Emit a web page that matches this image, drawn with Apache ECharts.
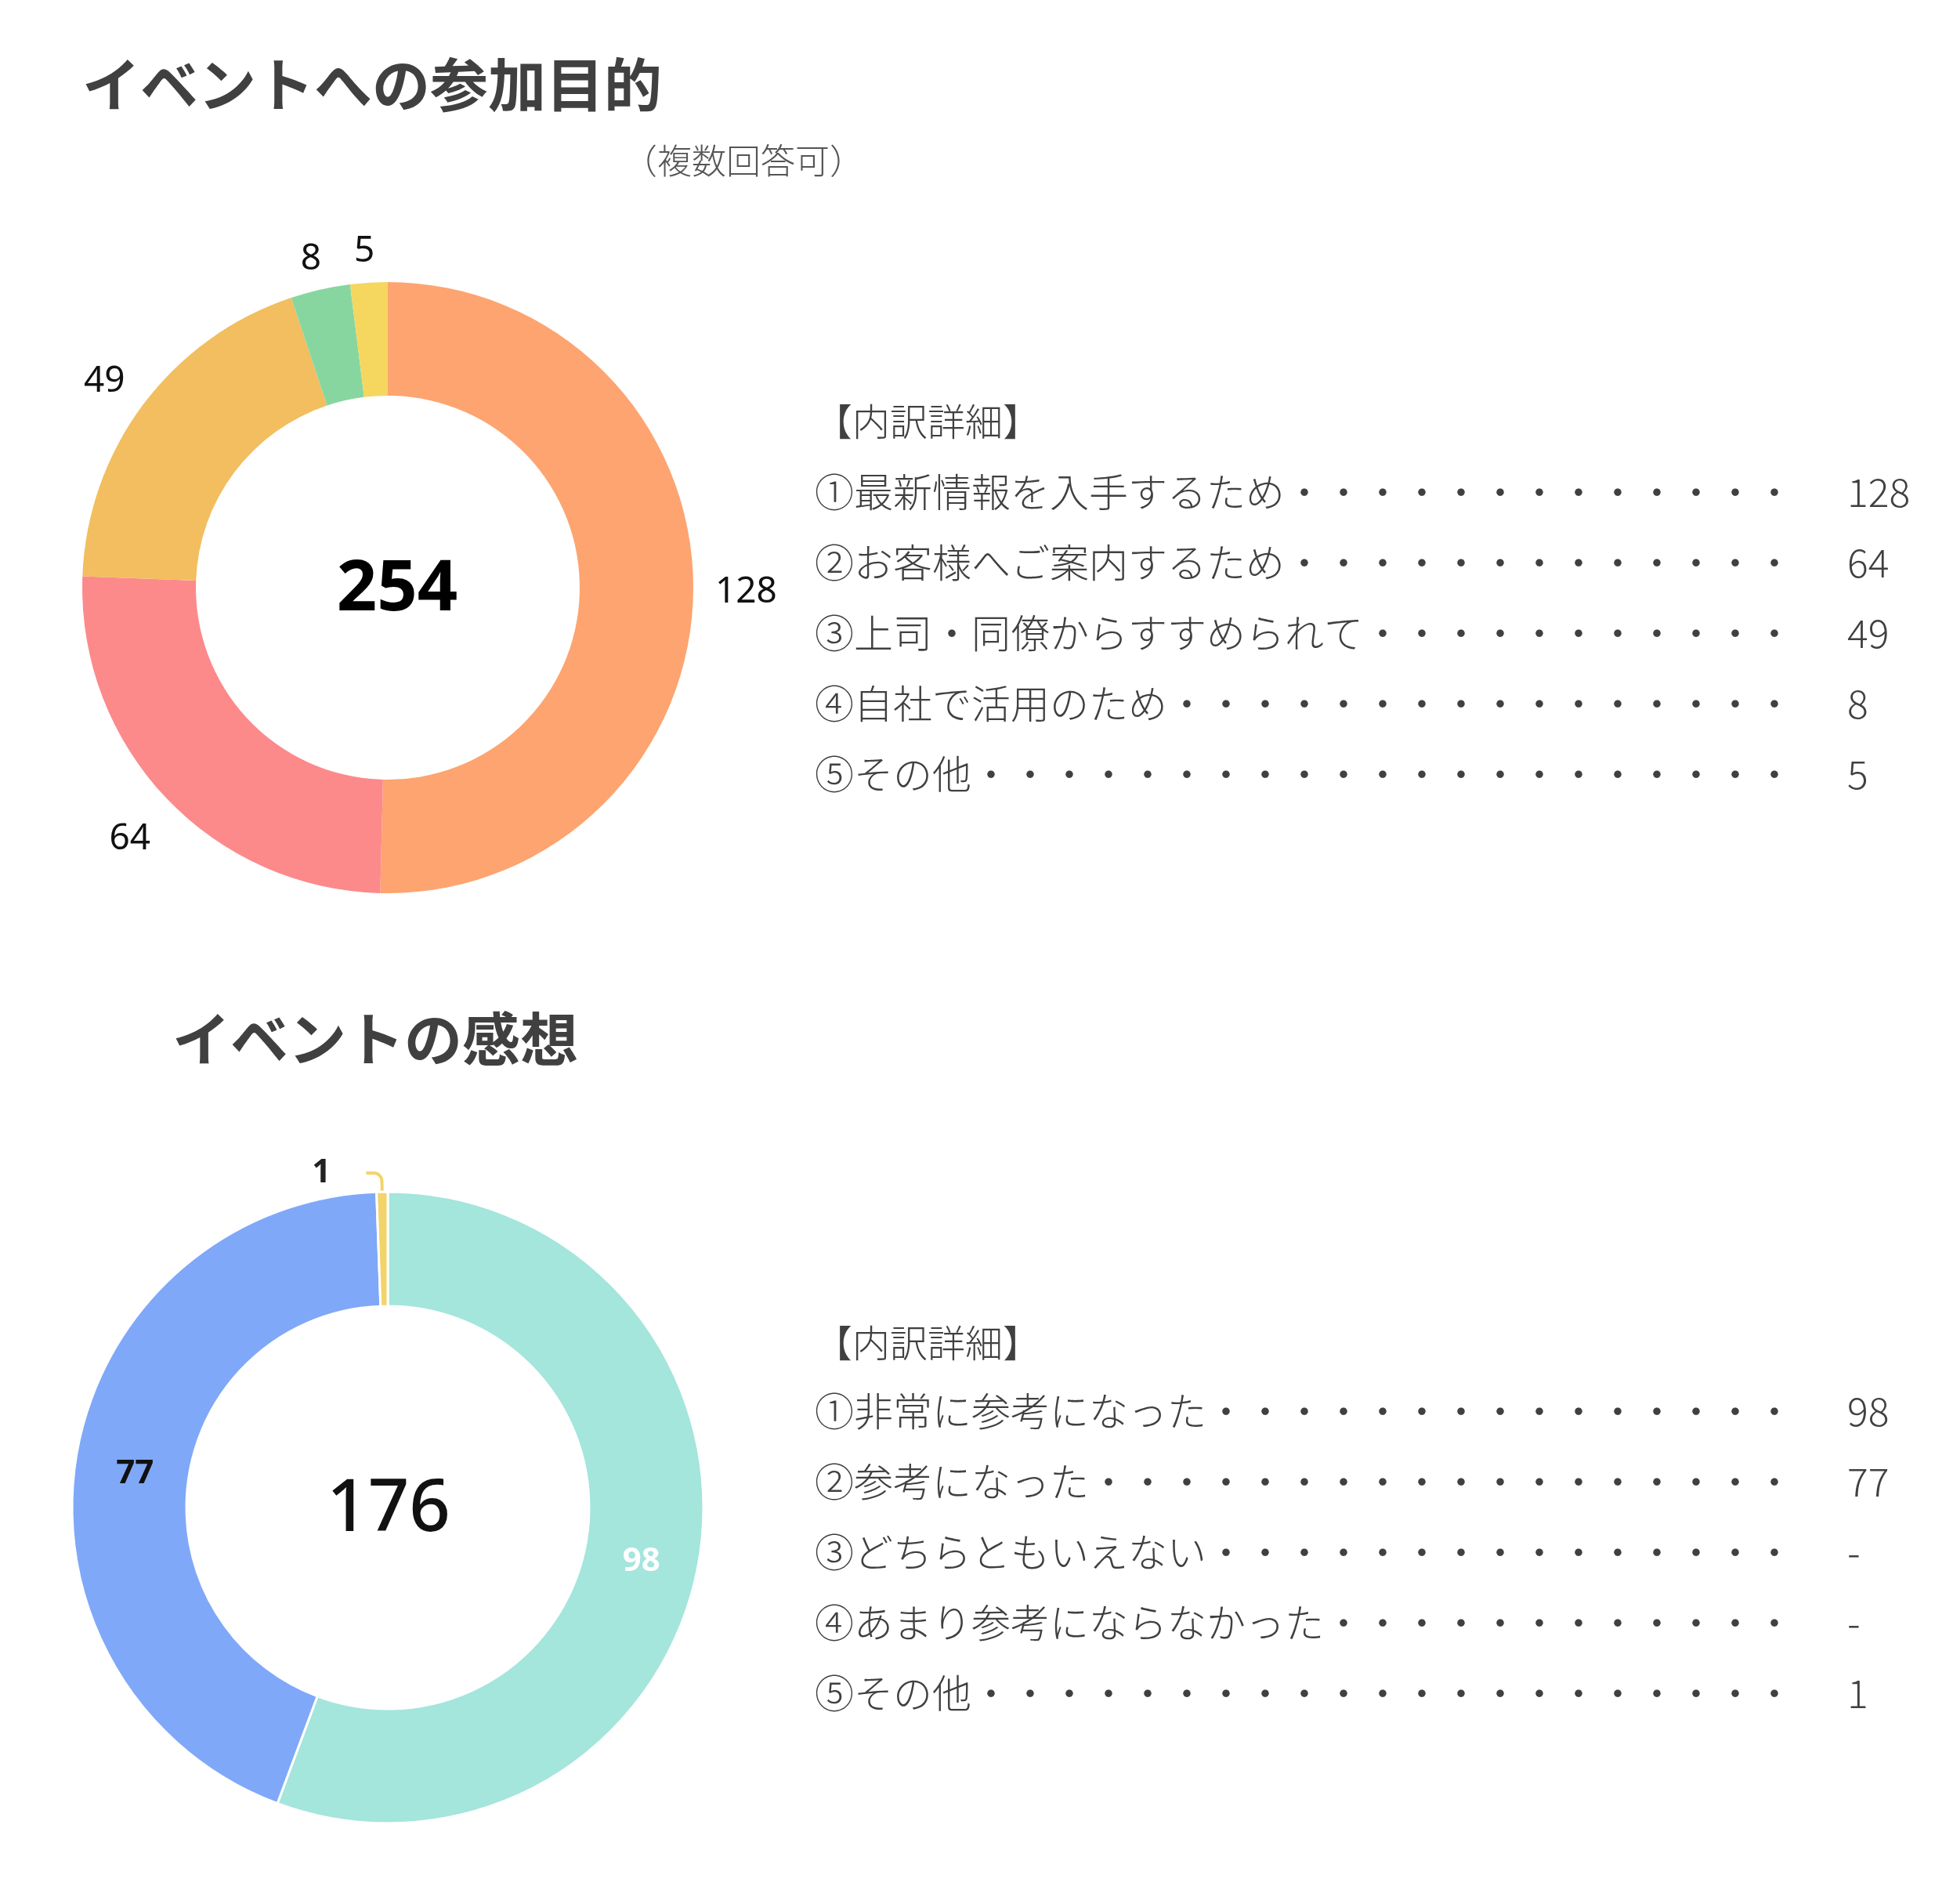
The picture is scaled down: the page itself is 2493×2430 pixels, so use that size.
<!DOCTYPE html>
<html>
<head>
<meta charset="utf-8">
<script src="https://cdn.jsdelivr.net/npm/echarts@6/dist/echarts.min.js"></script>
<style>
html,body{margin:0;padding:0;background:#ffffff;}
#c{width:2493px;height:2430px;}
</style>
</head>
<body>
<div id="c"></div>
<script>
// ---- data ----
const markers = ['①','②','③','④','⑤'];

const purposeTitle = 'イベントへの参加目的';
const purposeNote = '（複数回答可）';
const purposeCategories = ['最新情報を入手するため','お客様へご案内するため','上司・同僚からすすめられて','自社で活用のため','その他'];
const purposeValues = [128, 64, 49, 8, 5];

const impressionTitle = 'イベントの感想';
const impressionCategories = ['非常に参考になった','参考になった','どちらともいえない','あまり参考にならなかった','その他'];
const impressionValues = [98, 77, 0, 0, 1];

const detailHeader = '【内訳詳細】';

// ---- styles ----
const purposeColors = ['#FDA470','#FC8A8B','#F2BE5F','#87D6A0','#F5D65F'];
const purposeLabelLineLen = [48, 78, 48, 40, 40];
const purposeLabelGap = [-20, -38, -15, -10, -10];
const impressionColors = ['#A4E5DC','#80A8F8','#C9B8F0','#F7B7A3','#F2D46A'];
const CJK = "'Noto Sans CJK JP', sans-serif";
const LAT = "'Noto Sans', 'Open Sans', sans-serif";
const textGray = '#404040';

const sum = a => a.reduce((s, v) => s + v, 0);
const LINE_CHARS = 25;

function detailBlock(headerY, firstY, cats, vals) {
  const els = [];
  els.push({type:'text', x:1040, y:headerY, style:{text:detailHeader, fontSize:48, fontWeight:300, fontFamily:CJK, fill:textGray, align:'left', verticalAlign:'middle'}});
  cats.forEach((name, i) => {
    const head = markers[i] + name;
    const dots = '・'.repeat(Math.max(0, LINE_CHARS - head.length));
    els.push({type:'text', x:1040, y:firstY + i*90, style:{text:head + dots, fontSize:50, fontWeight:300, fontFamily:CJK, fill:textGray, align:'left', verticalAlign:'middle'}});
    els.push({type:'text', x:2358, y:firstY + i*90, style:{text:vals[i] > 0 ? String(vals[i]) : '-', fontSize:50, fontWeight:300, fontFamily:CJK, fill:textGray, align:'left', verticalAlign:'middle'}});
  });
  return els;
}

const purposeData = purposeValues.map((v, i) => ({
  name: purposeCategories[i], value: v,
  itemStyle: {color: purposeColors[i]},
  label: {distanceToLabelLine: purposeLabelGap[i]},
  labelLine: {show:false, length: purposeLabelLineLen[i], length2: 0}
}));

const impressionLabelStyles = [
  {position:'inside', color:'#ffffff', offset:[-4, 10]},
  {position:'inside', color:'#111111', offset:[6, 10]},
  {position:'inside', color:'#111111'},
  {position:'inside', color:'#111111'},
  {position:'outside', color:'#222222', distanceToLabelLine:45}
];
const impressionData = impressionValues.map((v, i) => {
  const d = {name: impressionCategories[i], value: v, itemStyle: {color: impressionColors[i]}, label: impressionLabelStyles[i]};
  if (impressionLabelStyles[i].position === 'outside') {
    d.labelLine = {show:true, length:24, length2:20, smooth:0.3, lineStyle:{width:4}};
  }
  return d;
}).filter(d => d.value > 0);

const chart = echarts.init(document.getElementById('c'), null, {renderer:'canvas'});

const graphics = [
  {type:'text', x:105, y:108, style:{text:purposeTitle, fontSize:74, fontWeight:'bold', fontFamily:CJK, fill:'#404040', align:'left', verticalAlign:'middle'}},
  {type:'text', x:795, y:205, style:{text:purposeNote, fontSize:44, fontWeight:300, fontFamily:CJK, fill:'#555555', align:'left', verticalAlign:'middle'}},
  {type:'text', x:220, y:1326, style:{text:impressionTitle, fontSize:74, fontWeight:'bold', fontFamily:CJK, fill:'#404040', align:'left', verticalAlign:'middle'}},
  {type:'text', x:507, y:753, style:{text:String(sum(purposeValues)), fontSize:90, fontWeight:'bold', fontFamily:LAT, fill:'#000000', align:'center', verticalAlign:'middle'}},
  {type:'text', x:496, y:1928, style:{text:String(sum(impressionValues)), fontSize:92, fontWeight:500, fontFamily:LAT, fill:'#111111', align:'center', verticalAlign:'middle'}}
].concat(detailBlock(538, 628, purposeCategories, purposeValues))
 .concat(detailBlock(1714, 1801, impressionCategories, impressionValues));

chart.setOption({
  animation: false,
  backgroundColor: '#ffffff',
  series: [
    {
      type: 'pie',
      silent: true,
      center: [495, 750],
      radius: [245, 390],
      startAngle: 90,
      clockwise: true,
      avoidLabelOverlap: false,
      itemStyle: {borderWidth: 0},
      label: {show:true, position:'outside', formatter:'{c}', fontSize:46, fontFamily:LAT, color:'#111111'},
      labelLine: {show:false},
      data: purposeData
    },
    {
      type: 'pie',
      silent: true,
      center: [495, 1924],
      radius: [257, 403],
      startAngle: 90,
      clockwise: true,
      avoidLabelOverlap: false,
      itemStyle: {borderColor:'#ffffff', borderWidth: 3},
      label: {show:true, formatter:'{c}', fontSize:42, fontWeight:'bold', fontFamily:LAT},
      labelLine: {show:false},
      data: impressionData
    }
  ],
  graphic: graphics
});
</script>
</body>
</html>
